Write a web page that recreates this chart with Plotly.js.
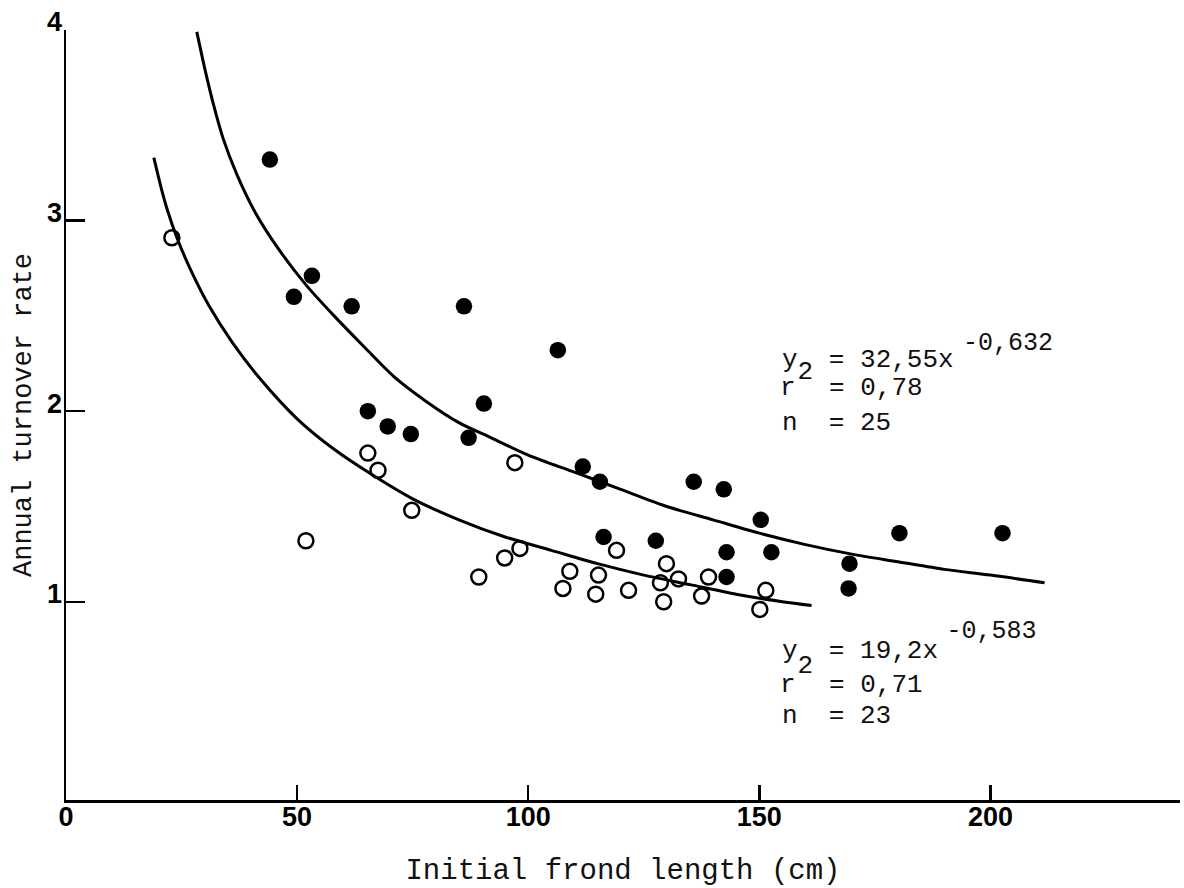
<!DOCTYPE html>
<html>
<head>
<meta charset="utf-8">
<script src="https://cdn.plot.ly/plotly-3.0.1.min.js"></script>
<style>html,body{margin:0;padding:0;background:#fff;}#chart{width:1184px;height:888px;}</style>
</head>
<body>
<div id="chart"></div>
<script>
// ---- Data ----
// Filled circles (upper group, n = 25)
const filledX = [44.1, 49.3, 53.2, 61.8, 65.3, 69.6, 74.6, 86.1, 87.1, 90.4, 106.4, 111.8, 115.5, 116.3, 127.6, 135.8, 142.3, 142.9, 142.9, 150.3, 152.6, 169.5, 169.3, 180.3, 202.6];
const filledY = [3.32, 2.60, 2.71, 2.55, 2.00, 1.92, 1.88, 2.55, 1.86, 2.04, 2.32, 1.71, 1.63, 1.34, 1.32, 1.63, 1.59, 1.26, 1.13, 1.43, 1.26, 1.20, 1.07, 1.36, 1.36];
// Open circles (lower group, n = 23)
const openX = [22.9, 51.9, 65.3, 67.5, 74.8, 89.3, 94.9, 97.1, 98.2, 107.5, 109.0, 114.6, 115.2, 119.1, 121.7, 128.6, 129.3, 129.9, 132.5, 137.5, 139.0, 150.1, 151.4];
const openY = [2.91, 1.32, 1.78, 1.69, 1.48, 1.13, 1.23, 1.73, 1.28, 1.07, 1.16, 1.04, 1.14, 1.27, 1.06, 1.10, 1.00, 1.20, 1.12, 1.03, 1.13, 0.96, 1.06];
// Fitted curves as drawn
const upperCurveX = [28.3, 30, 32, 34, 37, 41, 46, 52, 58, 64, 71, 78, 85, 92, 100, 110, 120, 130, 140, 150, 160, 170, 180, 190, 200, 211.7];
const upperCurveY = [3.99, 3.80, 3.60, 3.43, 3.24, 3.04, 2.85, 2.66, 2.50, 2.35, 2.18, 2.05, 1.94, 1.86, 1.77, 1.68, 1.59, 1.50, 1.43, 1.36, 1.30, 1.25, 1.21, 1.17, 1.14, 1.10];
const lowerCurveX = [19.0, 20.5, 22, 24, 27, 31, 36, 42, 50, 58, 66, 75, 85, 95, 105, 115, 125, 135, 145, 155, 161.3];
const lowerCurveY = [3.33, 3.18, 3.05, 2.91, 2.74, 2.55, 2.36, 2.17, 1.96, 1.80, 1.67, 1.54, 1.43, 1.34, 1.27, 1.20, 1.14, 1.09, 1.04, 1.00, 0.98];
// Tick values / labels
const xTickVals = [0, 50, 100, 150, 200];
const xTickText = ['0', '50', '100', '150', '200'];
const yTickVals = [1, 2, 3, 4];
const yTickText = ['1', '2', '3', '4'];
// Equation texts: [y, typed "2", rest of line 1, exponent, r, rest of r line, n line]
const upperEq = ['y', '2', ' = 32,55x', '-0,632', 'r', '= 0,78', 'n  = 25'];
const lowerEq = ['y', '2', ' = 19,2x', '-0,583', 'r', '= 0,71', 'n  = 23'];

// ---- Layout geometry (pixels) ----
const W = 1184, H = 888;
const ML = 66, MR = 4, MT = 30, MB = 88;
const PW = W - ML - MR, PH = H - MT - MB;
const mono = 'Liberation Mono, Courier New, DejaVu Sans Mono, monospace';
const bold = 'Liberation Sans Narrow, Arial Narrow, Liberation Sans, Arial, sans-serif';
const S = 26, CW = 0.6 * S;
function px(x){ return (x - ML) / PW; }
function py(y){ return (H - MB - y) / PH; }
function nb(s){ return s.replace(/ /g, '\u00A0'); }
function sp(s, size, shift){
  return '<span style="font-size:' + size + 'px' + (shift ? ';baseline-shift:' + shift + 'px' : '') + '">' + nb(s) + '</span>';
}
function single(text, left, base){
  return {text: nb(text), xref:'paper', yref:'paper', x: px(left), y: py(base - 0.267*S),
          xanchor:'left', yanchor:'middle', showarrow:false,
          font:{family: mono, size: S, color:'#111'}};
}
// Line 1 (with the typed "2" and the exponent) and the n line, on a fine line grid
function block(eq, left, base1, step, nSlot, subShift, gap, supShift, baseR){
  const lines = [];
  for (let i = 0; i <= nSlot; i++) lines.push('\u00A0');
  lines[0] = sp(eq[0], S) + sp(eq[1], S, -subShift) + sp(eq[2], S) + sp(' ', gap) + sp(eq[3], S - 1, supShift);
  lines[nSlot] = sp(eq[6], S);
  return [
    {text: lines.join('<br>'), xref:'paper', yref:'paper', x: px(left), y: py(base1 - 0.833*S - supShift - 1),
     xanchor:'left', yanchor:'top', align:'left', showarrow:false,
     font:{family: mono, size: step/1.3, color:'#111'}},
    single(eq[4], left - 2, baseR),
    single(eq[5], left + 3*CW, baseR)
  ];
}
const annotations = [].concat(
  block(upperEq, 780, 367, 5.7, 11, 12, 15.5, 17, 395),
  block(lowerEq, 780, 658, 5.4, 12, 15, 14, 20, 692)
);

const traces = [
  {x: upperCurveX, y: upperCurveY, mode:'lines', line:{color:'#000', width:3, shape:'spline', smoothing:0.8}, hoverinfo:'skip'},
  {x: lowerCurveX, y: lowerCurveY, mode:'lines', line:{color:'#000', width:3, shape:'spline', smoothing:0.8}, hoverinfo:'skip'},
  {x: filledX, y: filledY, mode:'markers', marker:{symbol:'circle', size:16.5, color:'#000'}},
  {x: openX, y: openY, mode:'markers', marker:{symbol:'circle-open', size:15, color:'#000', line:{width:2.5, color:'#000'}}}
];

const layout = {
  width: W, height: H,
  margin: {l: ML, r: MR, t: MT, b: MB, pad: 0},
  paper_bgcolor: '#fff', plot_bgcolor: '#fff',
  showlegend: false,
  xaxis: {
    range: [0, 241], showgrid:false, zeroline:false,
    showline:true, linecolor:'#000', linewidth:2.5, mirror:false,
    ticks:'inside', ticklen:15, tickwidth:2.5, tickcolor:'#000',
    tickvals: xTickVals, ticktext: xTickText,
    tickfont:{family: bold, size: 27, color:'#000', weight: 'bold'},
    ticklabelstandoff: -9,
    title:{text:'Initial frond length (cm)', font:{family: mono, size: 29, color:'#111'}, standoff: 30}
  },
  yaxis: {
    range: [-0.04, 4.0], showgrid:false, zeroline:false,
    showline:true, linecolor:'#000', linewidth:2.5, mirror:false,
    ticks:'inside', ticklen:19, tickwidth:2.5, tickcolor:'#000',
    tickvals: yTickVals, ticktext: yTickText,
    tickfont:{family: bold, size: 27, color:'#000', weight: 'bold'},
    ticklabelstandoff: -4, ticklabelshift: -8,
    title:{text:'Annual turnover rate', font:{family: mono, size: 27, color:'#111'}, standoff: 8}
  },
  annotations: annotations
};
Plotly.newPlot('chart', traces, layout, {staticPlot:true, displayModeBar:false});
</script>
</body>
</html>
